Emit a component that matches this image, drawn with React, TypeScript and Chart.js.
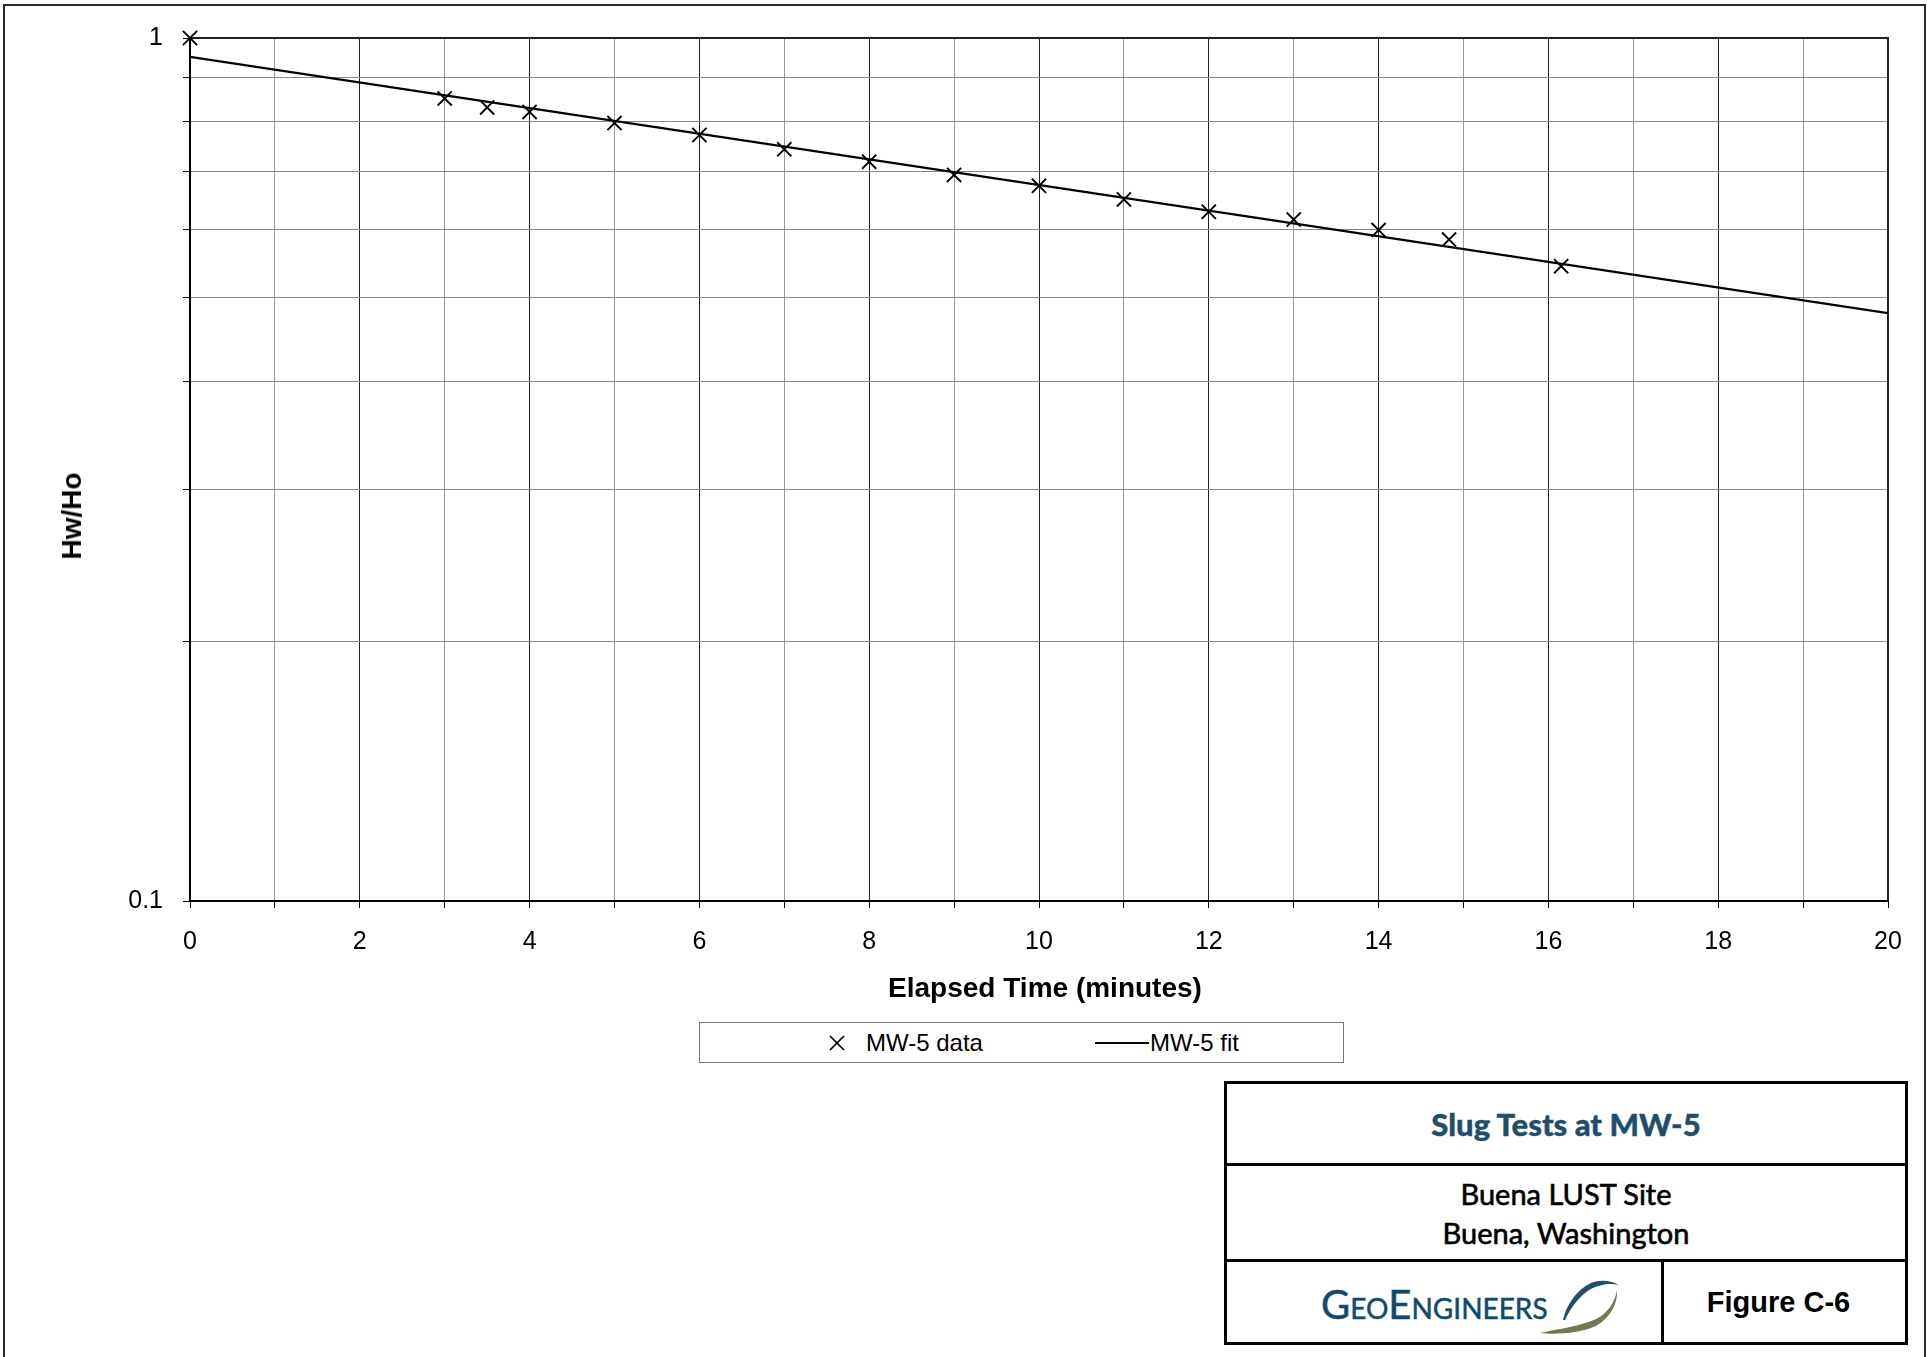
import React, { useEffect, useRef } from 'react';
import { Chart, registerables } from 'chart.js';

Chart.register(...registerables);

// ---- Data ----
const dataTimes = [0, 3, 3.5, 4, 5, 6, 7, 8, 9, 10, 11, 12, 13, 14, 14.83, 16.15];
const dataValues = [1.0, 0.851, 0.831, 0.821, 0.797, 0.772, 0.743, 0.719, 0.694, 0.674, 0.65, 0.629, 0.616, 0.599, 0.584, 0.544];
const fitTimes = [0, 20];
const fitValues = [0.951, 0.48];
const xTickLabels = [0, 2, 4, 6, 8, 10, 12, 14, 16, 18, 20];
const yGridValues = [0.1, 0.2, 0.3, 0.4, 0.5, 0.6, 0.7, 0.8, 0.9, 1];
const yTickLabels = [0.1, 1];

const FONT = "'Liberation Sans', Arial, sans-serif";
const CW = 1927;
const CH = 1012;

const framePlugin = {
  id: 'plotFrame',
  beforeDatasetsDraw(chart: any) {
    const { ctx, chartArea: a } = chart;
    ctx.save();
    ctx.strokeStyle = '#222';
    ctx.lineWidth = 2;
    ctx.beginPath();
    ctx.moveTo(a.left, a.top);
    ctx.lineTo(a.right, a.top);
    ctx.lineTo(a.right, a.bottom);
    ctx.stroke();
    ctx.restore();
  },
};

function PlotChart() {
  const ref = useRef<HTMLCanvasElement | null>(null);
  useEffect(() => {
    if (!ref.current) return;
    const chart = new Chart(ref.current, {
      type: 'scatter',
      data: {
        datasets: [
          {
            label: 'MW-5 fit',
            type: 'line',
            data: fitTimes.map((t, i) => ({ x: t, y: fitValues[i] })),
            borderColor: '#000',
            borderWidth: 2.2,
            pointRadius: 0,
            fill: false,
            tension: 0,
          } as any,
          {
            label: 'MW-5 data',
            data: dataTimes.map((t, i) => ({ x: t, y: dataValues[i] })),
            pointStyle: 'crossRot',
            pointRadius: 10,
            borderColor: '#000',
            backgroundColor: '#000',
            borderWidth: 1.9,
            showLine: false,
            clip: false,
          } as any,
        ],
      },
      options: {
        responsive: false,
        animation: false,
        devicePixelRatio: 1,
        layout: { padding: { left: 0, top: 38, right: 39, bottom: 0 } },
        plugins: { legend: { display: false }, tooltip: { enabled: false } },
        scales: {
          x: {
            type: 'linear',
            min: 0,
            max: 20,
            ticks: {
              stepSize: 1,
              autoSkip: false,
              maxRotation: 0,
              padding: 19,
              color: '#000',
              font: { family: FONT, size: 25 },
              callback: (v: any) => (xTickLabels.includes(Number(v)) ? String(v) : ''),
            },
            grid: {
              color: (c: any) => (c.tick && Math.round(c.tick.value) % 2 === 0 ? '#222' : '#9a9a9a'),
              lineWidth: 1,
              tickLength: 7,
              tickColor: '#000',
              drawTicks: true,
            },
            border: { color: '#000', width: 2 },
            title: { display: false },
            afterFit: (s: any) => {
              s.height = CH - 901;
            },
          },
          y: {
            type: 'logarithmic',
            min: 0.1,
            max: 1,
            afterBuildTicks: (s: any) => {
              s.ticks = yGridValues.map((v) => ({ value: v }));
            },
            ticks: {
              autoSkip: false,
              padding: 20,
              color: '#000',
              font: { family: FONT, size: 25 },
              callback: (v: any) => {
                const n = Number(v);
                const hit = yTickLabels.find((t) => Math.abs(t - n) < 1e-9);
                return hit !== undefined ? String(hit) : '';
              },
            },
            grid: {
              color: '#8a8a8a',
              lineWidth: 1,
              tickLength: 7,
              tickColor: '#000',
              drawTicks: true,
            },
            border: { color: '#000', width: 2 },
            title: { display: false },
            afterFit: (s: any) => {
              s.width = 190;
            },
          },
        },
      } as any,
      plugins: [framePlugin],
    });
    return () => chart.destroy();
  }, []);
  return (
    <canvas
      ref={ref}
      width={CW}
      height={CH}
      style={{ position: 'absolute', left: 0, top: 0, width: CW, height: CH }}
    />
  );
}

const abs = (l: number, t: number, w: number, h: number, extra: React.CSSProperties = {}): React.CSSProperties => ({
  position: 'absolute',
  left: l,
  top: t,
  width: w,
  height: h,
  boxSizing: 'border-box',
  ...extra,
});

export default function App() {
  const legendText: React.CSSProperties = {
    position: 'absolute',
    top: 0,
    height: 40,
    lineHeight: '40px',
    fontFamily: FONT,
    fontSize: 24,
    color: '#000',
    whiteSpace: 'nowrap',
  };
  return (
    <div style={abs(0, 0, 1927, 1357, { overflow: 'hidden', background: '#fff' })}>
      {/* outer frame */}
      <div style={abs(3, 4, 1923, 1400, { border: '2px solid #2b2b2b' })} />
      <PlotChart />

      {/* axis titles */}
      <div
        style={abs(845, 971, 400, 34, {
          textAlign: 'center',
          lineHeight: '34px',
          fontFamily: FONT,
          fontWeight: 'bold',
          fontSize: 28,
          color: '#000',
          whiteSpace: 'nowrap',
        })}
      >
        Elapsed Time (minutes)
      </div>
      <div
        style={{
          position: 'absolute',
          left: 72,
          top: 516,
          transform: 'translate(-50%, -50%) rotate(-90deg)',
          fontFamily: FONT,
          fontWeight: 'bold',
          fontSize: 28,
          lineHeight: '34px',
          color: '#000',
          whiteSpace: 'nowrap',
        }}
      >
        Hw/Ho
      </div>

      {/* legend */}
      <div style={abs(699, 1022, 645, 41, { border: '1px solid #777', background: '#fff' })}>
        <svg style={{ position: 'absolute', left: 128, top: 11, width: 18, height: 18 }} viewBox="0 0 18 18">
          <line x1="2" y1="2" x2="16" y2="16" stroke="#000" strokeWidth="1.7" />
          <line x1="16" y1="2" x2="2" y2="16" stroke="#000" strokeWidth="1.7" />
        </svg>
        <div style={{ ...legendText, left: 166 }}>MW-5 data</div>
        <div style={{ position: 'absolute', left: 395, top: 19, width: 54, height: 2, background: '#000' }} />
        <div style={{ ...legendText, left: 450 }}>MW-5 fit</div>
      </div>

      {/* title block */}
      <div style={abs(1224, 1081, 684, 264, { border: '3px solid #000' })} />
      <div style={abs(1224, 1163, 684, 3, { background: '#000' })} />
      <div style={abs(1224, 1259, 684, 3, { background: '#000' })} />
      <div style={abs(1661, 1259, 3, 86, { background: '#000' })} />

      <div
        style={abs(1227, 1084, 678, 79, {
          display: 'flex',
          alignItems: 'center',
          justifyContent: 'center',
          fontFamily: "Lato, 'Liberation Sans', sans-serif",
          fontWeight: 900,
          fontSize: 31,
          color: '#1f4e6d',
          WebkitTextStroke: '0.4px #1f4e6d',
        })}
      >
        Slug Tests at MW-5
      </div>
      <div
        style={abs(1227, 1166, 678, 93, {
          display: 'flex',
          flexDirection: 'column',
          alignItems: 'center',
          justifyContent: 'center',
          fontFamily: "Lato, 'Liberation Sans', sans-serif",
          fontSize: 29,
          lineHeight: '39px',
          color: '#000',
          WebkitTextStroke: '0.6px #000',
        })}
      >
        <div>Buena LUST Site</div>
        <div>Buena, Washington</div>
      </div>
      <div
        style={abs(1664, 1262, 241, 80, {
          display: 'flex',
          alignItems: 'center',
          justifyContent: 'center',
          fontFamily: FONT,
          fontWeight: 'bold',
          fontSize: 29,
          color: '#000',
          paddingRight: 12,
        })}
      >
        Figure C-6
      </div>

      {/* logo */}
      <div
        style={{
          position: 'absolute',
          left: 1321,
          top: 1282,
          height: 44,
          lineHeight: '44px',
          fontFamily: "Lato, 'Liberation Sans', sans-serif",
          fontSize: 40,
          fontVariant: 'small-caps',
          color: '#0f4a6e',
          whiteSpace: 'nowrap',
          WebkitTextStroke: '0.5px #0f4a6e',
        }}
      >
        GeoEngineers
      </div>
      <svg style={{ position: 'absolute', left: 1536, top: 1276, width: 90, height: 64 }} viewBox="0 0 90 64">
        <path d="M27,44 C30,30 40,14 55,7 C65,3 76,5 83,9 C75,7 64,8 53,14 C43,21 35,31 29,44 Z" fill="#1a4f72" />
        <path d="M4,57 C20,59 45,57 60,50 C74,42 82,28 81,14 C79,26 72,37 60,43 C45,50 22,53 4,57 Z" fill="#727a52" />
      </svg>
    </div>
  );
}
